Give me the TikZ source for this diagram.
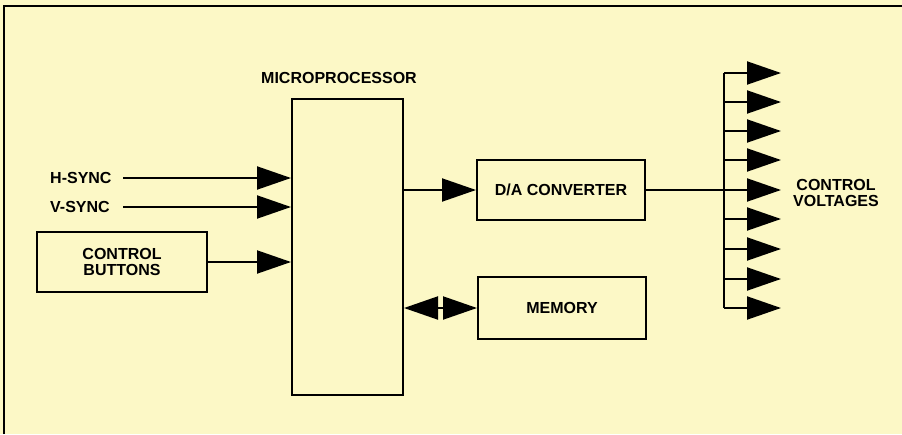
\documentclass[tikz,border=0pt]{standalone}
\usepackage{fontspec}
\setmainfont{Liberation Sans}
\usetikzlibrary{arrows.meta}
\definecolor{paper}{RGB}{252,248,198}
\begin{document}
\begin{tikzpicture}[x=1pt,y=-1pt,
  lw/.style={line width=2pt},
  txt/.style={font=\fontsize{16}{16}\selectfont\bfseries},
  blk/.style={draw,lw,inner sep=0pt,txt,align=center},
  lbl/.style={inner sep=0pt,txt,align=center},
  arr/.style={lw,-{Triangle[length=34pt,width=23pt]}}]
\useasboundingbox (0,0) rectangle (902,434);
\fill[paper] (0,0) rectangle (902,434);
\draw[line width=2pt] (4,434) -- (4,6) -- (902,6);
% blocks
\node[blk,minimum width=111pt,minimum height=296pt] (mp) at (347.5,247) {};
\node[lbl] (mplbl) at (339,78) {MICROPROCESSOR};
\node[blk,minimum width=170pt,minimum height=60pt] (cb) at (122,262) {CONTROL\\BUTTONS};
\node[blk,minimum width=168pt,minimum height=60pt] (da) at (561,190) {D/A CONVERTER};
\node[blk,minimum width=168pt,minimum height=62pt] (mem) at (562,308) {MEMORY};
\node[lbl] (cv) at (836,193) {CONTROL\\VOLTAGES};
% inputs
\node[lbl,anchor=west] (hs) at (50,178) {H-SYNC};
\node[lbl,anchor=west] (vs) at (50,207) {V-SYNC};
\coordinate (hsS) at (123,178);
\coordinate (vsS) at (123,207);
\draw[arr] (hsS) -- (hsS -| mp.west);
\draw[arr] (vsS) -- (vsS -| mp.west);
\draw[arr] (cb.east) -- (cb.east -| mp.west);
% outputs
\draw[arr] (da.west -| mp.east) -- (da.west);
\coordinate (mm) at (440,308);
\draw[arr] (mm) -- (mm -| mp.east);
\draw[arr] (mm) -- (mem.west);
% bus
\coordinate (bt) at (724,73);
\coordinate (bb) at (724,308);
\draw[lw] (da.east) -- (da.east -| bt);
\draw[lw] (bt) -- (bb);
\foreach \i/\y in {1/73,2/102,3/131,4/160,5/190,6/219,7/249,8/279,9/308}{
  \coordinate (b\i) at (724,\y);
  \coordinate (t\i) at (781,\y);
  \draw[arr] (b\i) -- (t\i);
}
\end{tikzpicture}
\end{document}
